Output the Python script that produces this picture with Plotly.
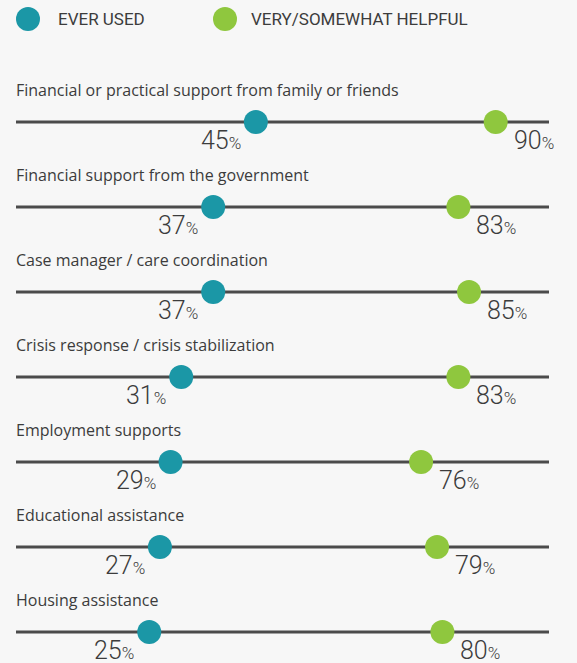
import plotly.graph_objects as go

# Support types, top to bottom
categories = [
    "Financial or practical support from family or friends",
    "Financial support from the government",
    "Case manager / care coordination",
    "Crisis response / crisis stabilization",
    "Employment supports",
    "Educational assistance",
    "Housing assistance",
]
ever_used = [45, 37, 37, 31, 29, 27, 25]
helpful = [90, 83, 85, 83, 76, 79, 80]
series_names = ["EVER USED", "VERY/SOMEWHAT HELPFUL"]

TEAL = "#1b97a6"
GREEN = "#8fc73e"
LINE = "#4b4b4b"
TEXT = "#3c3c3c"
BG = "#f7f7f7"

W, H = 577, 663
ML, MR = 16, W - 549
PW = W - ML - MR
ROW_PX = 85.0          # vertical distance between rows
FIRST_PX = 122.0       # pixel y of the first row's line


def px_to_row(py):
    return (py - FIRST_PX) / ROW_PX


def px_to_paper(px):
    return (px - ML) / PW


rows = list(range(len(categories)))
fig = go.Figure()

# horizontal tracks 0-100%
lx, ly = [], []
for r in rows:
    lx += [0, 100, None]
    ly += [r, r, None]
fig.add_trace(go.Scatter(x=lx, y=ly, mode="lines",
                         line=dict(color=LINE, width=3),
                         hoverinfo="skip", showlegend=False))

fig.add_trace(go.Scatter(x=ever_used, y=rows, mode="markers", name=series_names[0],
                         marker=dict(size=24, color=TEAL), showlegend=False))
fig.add_trace(go.Scatter(x=helpful, y=rows, mode="markers", name=series_names[1],
                         marker=dict(size=24, color=GREEN), showlegend=False))

annotations = []
pct = "<span style='font-size:17px'>%</span>"
num_font = dict(size=25, color=TEXT, family="Roboto", weight=300)
for r, (cat, a, b) in enumerate(zip(categories, ever_used, helpful)):
    annotations.append(dict(
        x=0, y=r - 32 / ROW_PX, xref="x", yref="y", text=cat, showarrow=False,
        xanchor="left", yanchor="middle", xshift=-2,
        font=dict(size=16, color=TEXT, family="Open Sans")))
    annotations.append(dict(
        x=a, y=r + 18 / ROW_PX, xref="x", yref="y", text=f"{a}{pct}", showarrow=False,
        xanchor="right", yanchor="middle", xshift=-14, borderpad=0, height=26,
        valign="middle", font=num_font))
    annotations.append(dict(
        x=b, y=r + 18 / ROW_PX, xref="x", yref="y", text=f"{b}{pct}", showarrow=False,
        xanchor="left", yanchor="middle", xshift=17, borderpad=0, height=26,
        valign="middle", font=num_font))

# legend drawn across the top
leg_y = px_to_row(19)
fig.add_trace(go.Scatter(x=[px_to_paper(28), px_to_paper(225)], y=[leg_y, leg_y],
                         mode="markers", xaxis="x2",
                         marker=dict(size=24, color=[TEAL, GREEN]),
                         hoverinfo="skip", showlegend=False))
for name, lx_px in zip(series_names, [56, 249]):
    annotations.append(dict(x=px_to_paper(lx_px), y=leg_y, xref="paper", yref="y",
                            text=name, showarrow=False, xanchor="left", yanchor="middle",
                            font=dict(size=17, color=TEXT, family="Roboto")))

fig.update_layout(
    width=W, height=H, autosize=False,
    paper_bgcolor=BG, plot_bgcolor=BG,
    margin=dict(l=ML, r=MR, t=0, b=0),
    xaxis=dict(range=[0, 100], visible=False, fixedrange=True),
    xaxis2=dict(range=[0, 1], visible=False, overlaying="x", fixedrange=True),
    yaxis=dict(range=[px_to_row(H), px_to_row(0)], visible=False, fixedrange=True),
    annotations=annotations,
    showlegend=False,
)

fig.write_html("out.html")
